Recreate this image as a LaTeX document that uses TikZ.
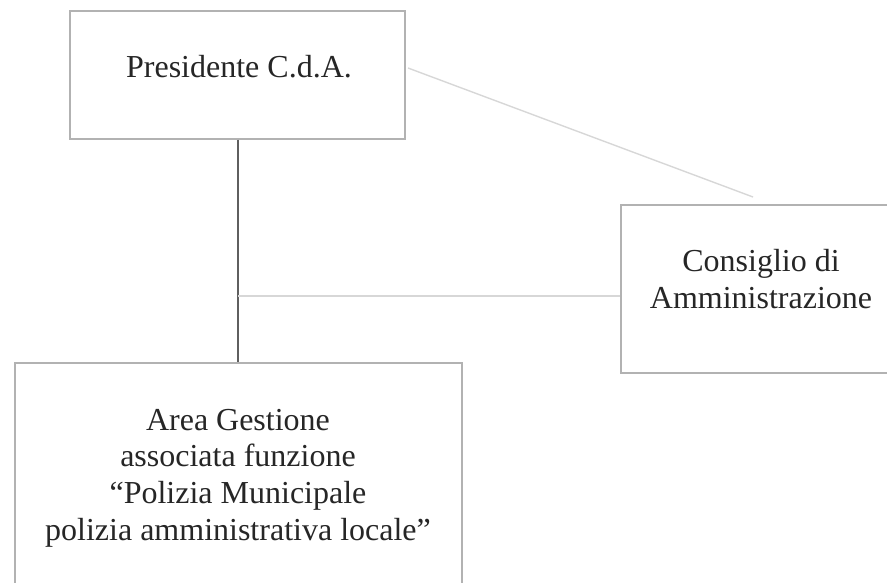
\documentclass[tikz,border=0pt]{standalone}
\usepackage{fontspec}
\setmainfont{Liberation Serif}
\usepackage{xcolor}
\usetikzlibrary{positioning, calc}

\definecolor{boxgray}{RGB}{178,178,178}
\definecolor{stemgray}{RGB}{95,95,95}
\definecolor{linkgray}{RGB}{215,215,215}

\begin{document}
\begin{tikzpicture}[x=1pt, y=-1pt, font=\fontsize{32}{36.7}\selectfont]
    \tikzstyle{unitbox}=[rectangle, draw=boxgray, line width=1.4pt, fill=white, inner sep=0pt]
    \tikzstyle{unittext}=[align=center, inner sep=0pt, text=black!85]
    \useasboundingbox (0,0) rectangle (887,583);
    % boxes
    \node[unitbox, minimum width=335pt, minimum height=128pt] (pres) at (237.5,75) {};
    \node[unitbox, minimum width=284pt, minimum height=168pt] (cons) at (763,289) {};
    \node[unitbox, minimum width=447pt, minimum height=229pt] (area) at (238.5,477.5) {};
    % texts
    \node[unittext] (prestext) at (239,67) {Presidente C.d.A.};
    \node[unittext] (constext) at (761,279) {Consiglio di\\Amministrazione};
    \node[unittext] (areatext) at (238,478) {Area Gestione\\associata funzione\\``Polizia Municipale\\polizia amministrativa locale''};
    % links
    \coordinate (join) at (238,296);
    \coordinate (diagstart) at (408,68);
    \coordinate (diagend) at (753,197);
    \draw[stemgray, line width=1.6pt] (pres.south -| join) -- (area.north -| join);
    \draw[linkgray, line width=1.4pt] (join) -- (join -| cons.west);
    \draw[linkgray, line width=1.4pt] (diagstart) -- (diagend);
\end{tikzpicture}
\end{document}
